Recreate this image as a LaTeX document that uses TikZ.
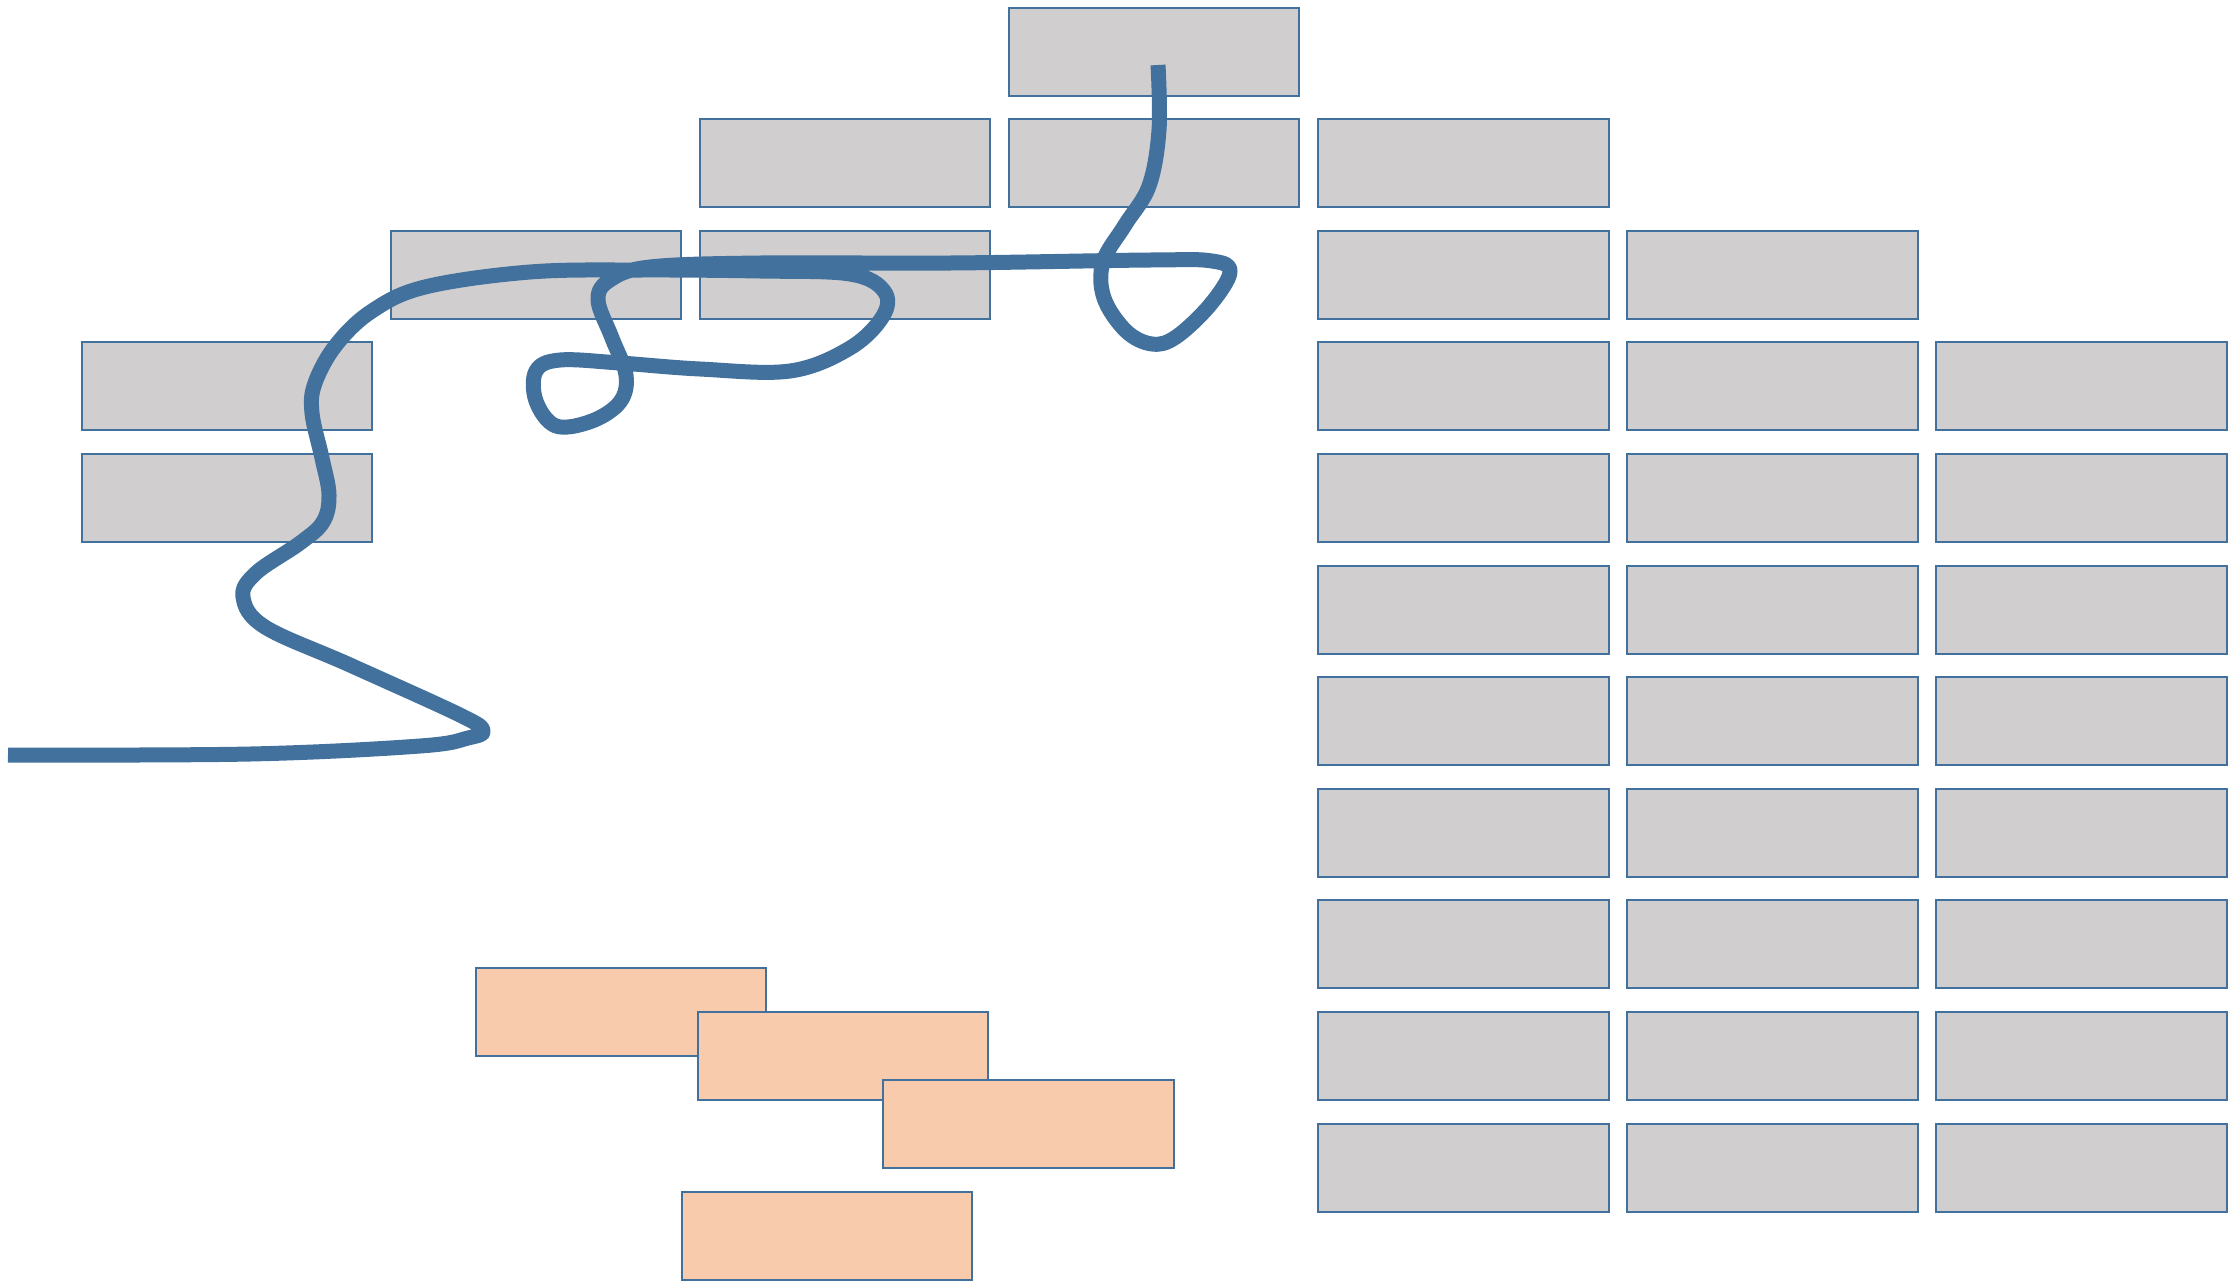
\documentclass[tikz,border=0pt]{standalone}
\definecolor{boxline}{HTML}{41719C}
\definecolor{boxgray}{HTML}{D0CECE}
\definecolor{peach}{HTML}{F8CBAD}
\definecolor{curveblue}{HTML}{41719C}
\tikzset{
  graybox/.style={rectangle, draw=boxline, line width=2pt, fill=boxgray,
    minimum width=290.6pt, minimum height=88pt, inner sep=0pt, anchor=north west},
  peachbox/.style={graybox, fill=peach},
  wire/.style={draw=curveblue, line width=15pt, line join=round, line cap=butt}
}
\begin{document}
\begin{tikzpicture}[x=1pt,y=-1pt]
\useasboundingbox (0,0) rectangle (2234,1283);
\fill[white] (0,0) rectangle (2234,1283);
\foreach \r/\c in {0/3, 1/2, 1/3, 1/4, 2/1, 2/2, 2/4, 2/5, 3/0, 3/4, 3/5, 3/6,
  4/0, 4/4, 4/5, 4/6, 5/4, 5/5, 5/6, 6/4, 6/5, 6/6, 7/4, 7/5, 7/6,
  8/4, 8/5, 8/6, 9/4, 9/5, 9/6, 10/4, 10/5, 10/6}
  \node[graybox] (g\r-\c) at ({80.5+309.1*\c},{6.5+111.6*\r}) {};
\node[peachbox] (p1) at (474.6,967) {};
\node[peachbox] (p2) at (696.8,1011) {};
\node[peachbox] (p3) at (882.2,1079) {};
\node[peachbox] (p4) at (680.7,1191) {};
\coordinate (cstart) at (8,755);
\coordinate (cend) at (1158,65);
\draw[wire] plot[smooth, tension=0.6] coordinates {
  (8,755) (250,754) (420,746) (468,738) (483,731) (462,716)
  (350,665) (265,627) (243,597) (256,573) (300,543) (323,522)
  (329,495) (322,458) (312,413) (315,383) (336,345) (372,311)
  (425,287) (530,272) (640,270) (760,271) (850,274) (884,291)
  (883,316) (850,348) (790,371) (700,369) (620,363) (560,360)
  (536,371) (536,401) (556,426) (592,421) (620,402) (626,375)
  (612,338) (598,300) (610,280) (650,267) (760,263) (950,263)
  (1150,260) (1212,261) (1230,272) (1210,305) (1176,337) (1152,344)
  (1126,331) (1104,298) (1103,262) (1125,225) (1149,186) (1159,130)
  (1158,65)};
\end{tikzpicture}
\end{document}
